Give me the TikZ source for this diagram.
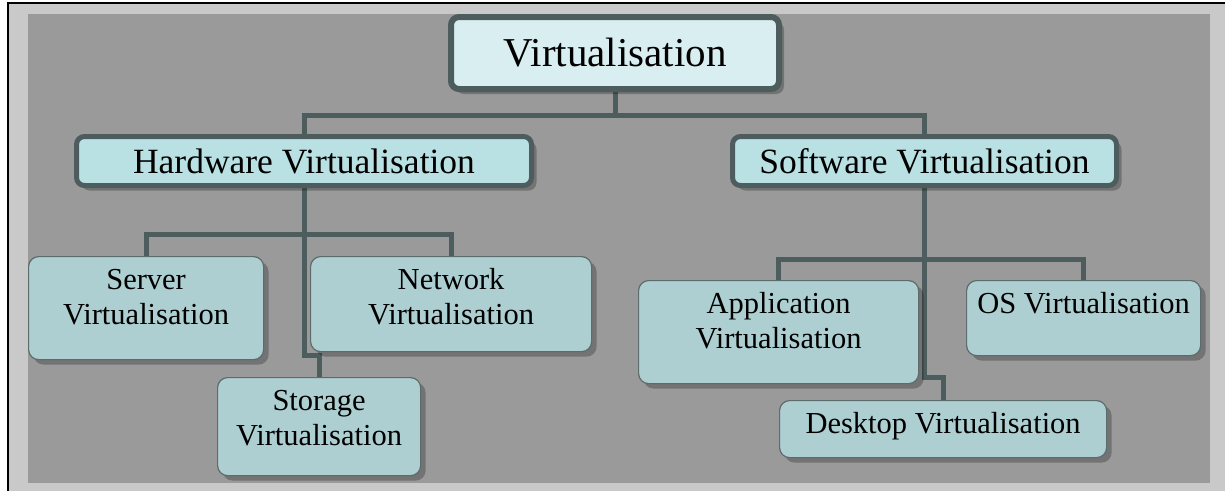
\documentclass[tikz,border=0pt]{standalone}
\usepackage{fontspec}
\setmainfont{Liberation Serif}
\usetikzlibrary{shadows,backgrounds}

\definecolor{slate}{HTML}{4D5D5D}
\definecolor{leafline}{HTML}{5C6B6B}
\definecolor{rootfill}{HTML}{D9EEF0}
\definecolor{midfill}{HTML}{B9E0E3}
\definecolor{leaffill}{HTML}{AECFD1}
\definecolor{panel}{HTML}{9A9A9A}
\definecolor{margin}{HTML}{C9C9C9}

\newcommand{\boxlines}[3]{\parbox[c][#2][t]{#1}{\centering\rule{0pt}{33pt}#3}}

\tikzset{
  wire/.style={draw=slate, line width=5pt},
  boxshadow/.style={drop shadow={shadow xshift=5pt, shadow yshift=-5pt, fill=black, opacity=0.25}},
  rootbox/.style={draw=slate, line width=6pt, fill=rootfill, rounded corners=8pt, boxshadow,
    minimum width=328pt, minimum height=72pt, inner sep=0pt, font=\fontsize{41}{45}\selectfont},
  midbox/.style={draw=slate, line width=5pt, fill=midfill, rounded corners=8pt, boxshadow,
    minimum height=49pt, inner sep=0pt, font=\fontsize{35.5}{40}\selectfont},
  leafbox/.style={draw=leafline, line width=1.2pt, fill=leaffill, rounded corners=10pt, boxshadow,
    anchor=north west, inner sep=0pt, font=\fontsize{30.5}{35}\selectfont}
}

\begin{document}
\begin{tikzpicture}[x=1pt, y=-1pt]
    \useasboundingbox (0,0) rectangle (1225,491);

    \node[rootbox] (virt) at (615,53) {Virtualisation};

    \node[midbox, minimum width=455pt] (hw) at (304,161) {Hardware Virtualisation};
    \node[midbox, minimum width=384pt] (sw) at (924.5,161) {Software Virtualisation};

    \node[leafbox] (srv) at (28,256) {\boxlines{235pt}{103pt}{Server\\Virtualisation}};
    \node[leafbox] (net) at (310,256) {\boxlines{281pt}{95pt}{Network\\Virtualisation}};
    \node[leafbox] (sto) at (217,377) {\boxlines{203pt}{98pt}{Storage\\Virtualisation}};

    \node[leafbox] (app) at (638,280) {\boxlines{280pt}{103pt}{Application\\Virtualisation}};
    \node[leafbox] (os) at (966,280) {\boxlines{234pt}{75pt}{OS Virtualisation}};
    \node[leafbox] (desk) at (779,400) {\boxlines{327pt}{57pt}{Desktop Virtualisation}};

    \begin{scope}[on background layer]
        \fill[white] (0,0) rectangle (1225,491);
        \fill[margin] (8,3) rectangle (1225,491);
        \draw[black, line width=1.5pt] (8,491) -- (8,3) -- (1225,3);
        \fill[panel] (28,14) rectangle (1210,483);

        \draw[wire] (virt.south) -- ++(0,23) -| (hw.north);
        \draw[wire] (virt.south) -- ++(0,23) -| (sw.north);

        \draw[wire] (hw.south) -- ++(0,46.5) -| (srv.north);
        \draw[wire] (hw.south) -- ++(0,46.5) -| (net.north);
        \draw[wire] (hw.south) -- ++(0,167.5) -| (sto.north);

        \draw[wire] (sw.south) -- ++(0,71.5) -| (app.north);
        \draw[wire] (sw.south) -- ++(0,71.5) -| (os.north);
        \draw[wire] (sw.south) -- ++(0,189.5) -| (desk.north);
    \end{scope}
\end{tikzpicture}
\end{document}
